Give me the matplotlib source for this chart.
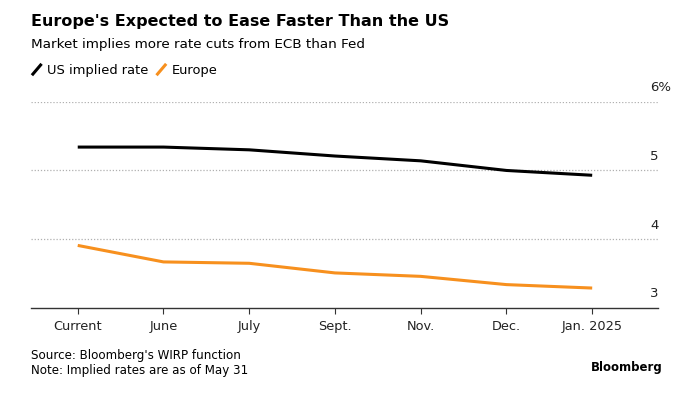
import matplotlib.pyplot as plt
import numpy as np

plt.rcParams['font.family'] = ['DejaVu Sans']

categories = ['Current', 'June', 'July', 'Sept.', 'Nov.', 'Dec.', 'Jan. 2025']
us_rate = [5.34, 5.34, 5.30, 5.21, 5.14, 5.00, 4.93]
europe_rate = [3.91, 3.67, 3.65, 3.51, 3.46, 3.34, 3.29]
ytick_vals = [3, 4, 5, 6]
ytick_labels = ['3', '4', '5', '6%']

fig = plt.figure(figsize=(7, 3.94), dpi=100)
ax = fig.add_axes([0.0443, 0.2183, 0.896, 0.5236])

x = np.arange(len(categories))
ax.plot(x, us_rate, color='black', lw=2.2, solid_capstyle='butt')
ax.plot(x, europe_rate, color='#f7901e', lw=2.2, solid_capstyle='butt')

ax.set_xlim(-0.545, 6.77)
ax.set_ylim(3, 6)

for v in ytick_vals[1:]:
    ax.axhline(v, color='#b0b0b0', lw=0.9, ls=(0, (1, 1.5)), zorder=0)
for v, lab in zip(ytick_vals, ytick_labels):
    ax.text(0.987, v + 0.11, lab, transform=ax.get_yaxis_transform(),
            ha='left', va='bottom', fontsize=9.5, color='#222222')

for s in ['top', 'right', 'left']:
    ax.spines[s].set_visible(False)
ax.spines['bottom'].set_color('#333333')
ax.spines['bottom'].set_linewidth(1.0)
ax.set_yticks([])
ax.set_xticks(x)
ax.set_xticklabels(categories, fontsize=9.3, color='#222222')
ax.tick_params(axis='x', length=4.5, width=0.8, color='#333333', pad=4.5)

fig.text(0.044, 0.945, "Europe's Expected to Ease Faster Than the US",
         fontsize=11.5, fontweight='bold', va='center')
fig.text(0.044, 0.888, 'Market implies more rate cuts from ECB than Fed',
         fontsize=9.7, va='center')

# legend
fig.lines.append(plt.Line2D([0.047, 0.058], [0.812, 0.835], transform=fig.transFigure,
                            color='black', lw=2.2))
fig.text(0.067, 0.822, 'US implied rate', fontsize=9.4, va='center')
fig.lines.append(plt.Line2D([0.225, 0.236], [0.812, 0.835], transform=fig.transFigure,
                            color='#f7901e', lw=2.2))
fig.text(0.245, 0.822, 'Europe', fontsize=9.4, va='center')

fig.text(0.044, 0.098, "Source: Bloomberg's WIRP function", fontsize=8.6, va='center')
fig.text(0.044, 0.06, 'Note: Implied rates are as of May 31', fontsize=8.6, va='center')
fig.text(0.946, 0.068, 'Bloomberg', fontsize=8.5, fontweight='bold',
         ha='right', va='center')

fig.savefig('out.png', dpi=100)
